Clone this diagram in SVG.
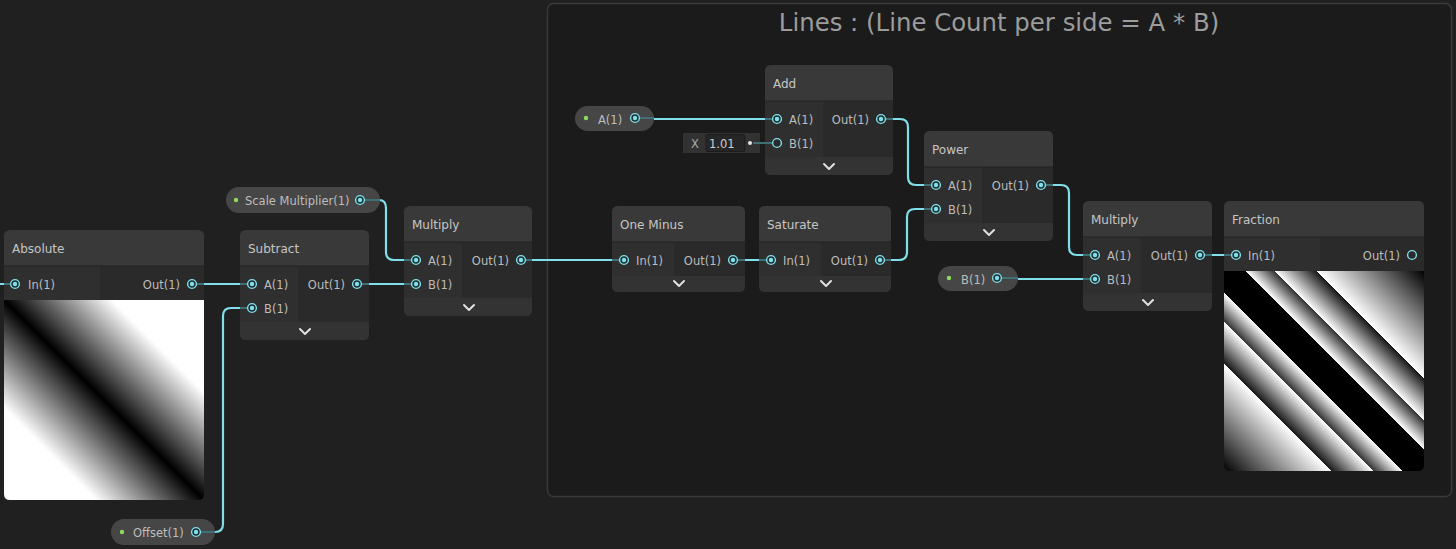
<svg xmlns="http://www.w3.org/2000/svg" xmlns:xlink="http://www.w3.org/1999/xlink" width="1456" height="549" viewBox="0 0 1456 549">
<style>
text{font-family:"DejaVu Sans","Liberation Sans",sans-serif;}
.t{font-size:12px;fill:#c6c6c6;}
.p{font-size:11.5px;fill:#bdbdbd;}
.hd{fill:#393939;}
.bd{fill:#2a2a2a;}
.ic{fill:#2f2f2f;}
.bar{fill:#333333;}
.sep{stroke:#222;stroke-width:1;}
.wire{fill:none;stroke:#80dfe9;stroke-width:2.2;stroke-linecap:round;}
.stub{fill:none;stroke:#3f7075;stroke-width:2;}
.chev{fill:none;stroke:#e0e0e0;stroke-width:2;stroke-linecap:round;stroke-linejoin:round;}
.pill{fill:#464646;}
.gdot{fill:#8fdc5a;}
</style>
<defs>
<g id="port"><circle r="4.4" fill="#1e3032" stroke="#80dfe9" stroke-width="1.4"/><circle r="2.2" fill="#80dfe9"/></g>
<g id="oport"><circle r="4.4" fill="#2a2a2a" stroke="#80dfe9" stroke-width="1.4"/></g>
<linearGradient id="gAbs" gradientUnits="userSpaceOnUse" x1="4" y1="500" x2="204" y2="300">
<stop offset="0" stop-color="#fff"/><stop offset="0.23" stop-color="#fff"/><stop offset="0.5" stop-color="#000"/><stop offset="0.77" stop-color="#fff"/><stop offset="1" stop-color="#fff"/>
</linearGradient>
<linearGradient id="gFrac" gradientUnits="userSpaceOnUse" x1="1224" y1="471" x2="1424" y2="271">
<stop offset="0" stop-color="#000"/>
<stop offset="0.2692" stop-color="#fff"/>
<stop offset="0.2692" stop-color="#181818"/>
<stop offset="0.3738" stop-color="#fff"/>
<stop offset="0.3738" stop-color="#333"/>
<stop offset="0.4463" stop-color="#fff"/>
<stop offset="0.4463" stop-color="#000"/>
<stop offset="0.5537" stop-color="#000"/>
<stop offset="0.5537" stop-color="#fff"/>
<stop offset="0.6262" stop-color="#333"/>
<stop offset="0.6262" stop-color="#fff"/>
<stop offset="0.7308" stop-color="#181818"/>
<stop offset="0.7308" stop-color="#fff"/>
<stop offset="1" stop-color="#000"/>
</linearGradient>
</defs>
<rect x="0" y="0" width="1456" height="549" fill="#202020"/>

<g id="group-lines">
<rect x="547.5" y="3.5" width="904" height="493" rx="6" fill="#1b1b1b" stroke="#3a3a3a" stroke-width="1.5"/>
<text x="999" y="31" text-anchor="middle" style="font-size:24.4px;fill:#9c9c9c">Lines : (Line Count per side = A * B)</text>
</g>

<g id="connectors">
<path class="wire" d="M0,284 H4"/>
<path class="wire" d="M204,284 H240"/>
<path class="wire" d="M369,284 H404"/>
<path class="wire" d="M379,200 Q386,200 386,208 V252 Q386,260 394,260 H404"/>
<path class="wire" d="M215,532 Q223,532 223,524 V316 Q223,308 231,308 H240"/>
<path class="wire" d="M532,260 H612"/>
<path class="wire" d="M745,260 H759"/>
<path class="wire" d="M891,260 H899 Q907,260 907,252 V217 Q907,209 915,209 H924"/>
<path class="wire" d="M654,119 H765"/>
<path class="wire" d="M893,119 H900 Q908,119 908,127 V177 Q908,185 916,185 H924"/>
<path class="wire" d="M1053,185 H1061 Q1069,185 1069,193 V247 Q1069,255 1077,255 H1083"/>
<path class="wire" d="M1018,279 H1083"/>
<path class="wire" d="M1212,255 H1224"/>
</g>

<g id="node-absolute">
<rect class="bd" x="4" y="230" width="200" height="270" rx="6"/>
<path class="hd" d="M4,266 V236 Q4,230 10,230 H198 Q204,230 204,236 V266 Z"/>
<rect class="ic" x="4" y="266" width="96" height="34"/>
<path d="M4,300 H204 V494 Q204,500 198,500 H10 Q4,500 4,494 Z" fill="url(#gAbs)"/>
<line class="sep" x1="4" y1="266" x2="204" y2="266"/>
<text class="t" x="12" y="253">Absolute</text>
<path class="stub" d="M4,284 H11"/><path class="stub" d="M196,284 H204"/>
<use xlink:href="#port" x="15" y="284"/><use xlink:href="#port" x="192" y="284"/>
<text class="p" x="28" y="289">In(1)</text>
<text class="p" x="180" y="289" text-anchor="end">Out(1)</text>
</g>

<g id="node-subtract">
<rect class="bd" x="240" y="230" width="129" height="110" rx="6"/>
<path class="hd" d="M240,266 V236 Q240,230 246,230 H363 Q369,230 369,236 V266 Z"/>
<rect class="ic" x="240" y="266" width="58" height="56"/>
<path class="bar" d="M240,322 H369 V334 Q369,340 363,340 H246 Q240,340 240,334 Z"/>
<line class="sep" x1="240" y1="266" x2="369" y2="266"/>
<text class="t" x="248" y="253">Subtract</text>
<path class="stub" d="M240,284 H248 M240,308 H248 M361,284 H369"/>
<use xlink:href="#port" x="252" y="284"/><use xlink:href="#port" x="252" y="308"/><use xlink:href="#port" x="357" y="284"/>
<text class="p" x="264" y="289">A(1)</text><text class="p" x="264" y="313">B(1)</text>
<text class="p" x="345" y="289" text-anchor="end">Out(1)</text>
<path class="chev" d="M300,329 L305,334 L310,329"/>
</g>

<g id="node-scale-multiplier">
<rect class="pill" x="226" y="187" width="154" height="26" rx="13"/>
<circle class="gdot" cx="236" cy="200" r="2.2"/>
<text class="p" x="245" y="205">Scale Multiplier(1)</text>
<path class="stub" d="M364,200 H380"/>
<use xlink:href="#port" x="360" y="200"/>
</g>

<g id="node-offset">
<rect class="pill" x="111" y="519" width="104" height="26" rx="13"/>
<circle class="gdot" cx="122" cy="532" r="2.2"/>
<text class="p" x="133" y="537">Offset(1)</text>
<path class="stub" d="M200,532 H215"/>
<use xlink:href="#port" x="196" y="532"/>
</g>

<g id="node-multiply-1">
<rect class="bd" x="404" y="206" width="128" height="110" rx="6"/>
<path class="hd" d="M404,242 V212 Q404,206 410,206 H526 Q532,206 532,212 V242 Z"/>
<rect class="ic" x="404" y="242" width="58" height="56"/>
<path class="bar" d="M404,298 H532 V310 Q532,316 526,316 H410 Q404,316 404,310 Z"/>
<line class="sep" x1="404" y1="242" x2="532" y2="242"/>
<text class="t" x="412" y="229">Multiply</text>
<path class="stub" d="M404,260 H412 M404,284 H412 M525,260 H532"/>
<use xlink:href="#port" x="416" y="260"/><use xlink:href="#port" x="416" y="284"/><use xlink:href="#port" x="521" y="260"/>
<text class="p" x="428" y="265">A(1)</text><text class="p" x="428" y="289">B(1)</text>
<text class="p" x="509" y="265" text-anchor="end">Out(1)</text>
<path class="chev" d="M464,305 L469,310 L474,305"/>
</g>

<g id="node-one-minus">
<rect class="bd" x="612" y="206" width="133" height="86" rx="6"/>
<path class="hd" d="M612,242 V212 Q612,206 618,206 H739 Q745,206 745,212 V242 Z"/>
<rect class="ic" x="612" y="242" width="62" height="34"/>
<path class="bar" d="M612,276 H745 V286 Q745,292 739,292 H618 Q612,292 612,286 Z"/>
<line class="sep" x1="612" y1="242" x2="745" y2="242"/>
<text class="t" x="620" y="229">One Minus</text>
<path class="stub" d="M612,260 H620 M737,260 H745"/>
<use xlink:href="#port" x="624" y="260"/><use xlink:href="#port" x="733" y="260"/>
<text class="p" x="636" y="265">In(1)</text>
<text class="p" x="721" y="265" text-anchor="end">Out(1)</text>
<path class="chev" d="M674,281 L679,286 L684,281"/>
</g>

<g id="node-saturate">
<rect class="bd" x="759" y="206" width="132" height="86" rx="6"/>
<path class="hd" d="M759,242 V212 Q759,206 765,206 H885 Q891,206 891,212 V242 Z"/>
<rect class="ic" x="759" y="242" width="62" height="34"/>
<path class="bar" d="M759,276 H891 V286 Q891,292 885,292 H765 Q759,292 759,286 Z"/>
<line class="sep" x1="759" y1="242" x2="891" y2="242"/>
<text class="t" x="767" y="229">Saturate</text>
<path class="stub" d="M759,260 H767 M884,260 H891"/>
<use xlink:href="#port" x="771" y="260"/><use xlink:href="#port" x="880" y="260"/>
<text class="p" x="783" y="265">In(1)</text>
<text class="p" x="868" y="265" text-anchor="end">Out(1)</text>
<path class="chev" d="M821,281 L826,286 L831,281"/>
</g>

<g id="node-a">
<rect class="pill" x="575" y="106" width="79" height="25" rx="12.5"/>
<circle class="gdot" cx="586" cy="118" r="2.2"/>
<text class="p" x="598" y="124">A(1)</text>
<path class="stub" d="M639,118 H654"/>
<use xlink:href="#port" x="635" y="118"/>
</g>

<g id="node-add">
<rect class="bd" x="765" y="65" width="128" height="110" rx="6"/>
<path class="hd" d="M765,101 V71 Q765,65 771,65 H887 Q893,65 893,71 V101 Z"/>
<rect class="ic" x="765" y="101" width="58" height="56"/>
<path class="bar" d="M765,157 H893 V169 Q893,175 887,175 H771 Q765,175 765,169 Z"/>
<line class="sep" x1="765" y1="101" x2="893" y2="101"/>
<text class="t" x="773" y="88">Add</text>
<path class="stub" d="M765,119 H773 M885,119 H893"/>
<use xlink:href="#port" x="777" y="119"/><use xlink:href="#oport" x="777" y="143"/><use xlink:href="#port" x="881" y="119"/>
<text class="p" x="789" y="124">A(1)</text><text class="p" x="789" y="148">B(1)</text>
<text class="p" x="869" y="124" text-anchor="end">Out(1)</text>
<path class="chev" d="M824,164 L829,169 L834,164"/>
</g>

<g id="field-add-b">
<rect x="683" y="133" width="77" height="20" fill="#323232"/>
<rect x="706" y="134.5" width="39" height="17" rx="2" fill="#262626" stroke="#1c1c1c"/>
<text class="p" x="695" y="148" text-anchor="middle" style="fill:#a8a8a8">X</text>
<text class="p" x="709" y="148" style="fill:#cfcfcf">1.01</text>
<circle cx="750" cy="143" r="2" fill="#dfe9ea"/>
<path d="M753,143 H772" stroke="#3f7075" stroke-width="2"/>
</g>

<g id="node-power">
<rect class="bd" x="924" y="131" width="129" height="110" rx="6"/>
<path class="hd" d="M924,167 V137 Q924,131 930,131 H1047 Q1053,131 1053,137 V167 Z"/>
<rect class="ic" x="924" y="167" width="58" height="56"/>
<path class="bar" d="M924,223 H1053 V235 Q1053,241 1047,241 H930 Q924,241 924,235 Z"/>
<line class="sep" x1="924" y1="167" x2="1053" y2="167"/>
<text class="t" x="932" y="154">Power</text>
<path class="stub" d="M924,185 H932 M924,209 H932 M1045,185 H1053"/>
<use xlink:href="#port" x="936" y="185"/><use xlink:href="#port" x="936" y="209"/><use xlink:href="#port" x="1041" y="185"/>
<text class="p" x="948" y="190">A(1)</text><text class="p" x="948" y="214">B(1)</text>
<text class="p" x="1029" y="190" text-anchor="end">Out(1)</text>
<path class="chev" d="M984,230 L989,235 L994,230"/>
</g>

<g id="node-b">
<rect class="pill" x="938" y="266" width="80" height="25" rx="12.5"/>
<circle class="gdot" cx="949" cy="278" r="2.2"/>
<text class="p" x="961" y="284">B(1)</text>
<path class="stub" d="M1001,278 H1018"/>
<use xlink:href="#port" x="997" y="278"/>
</g>

<g id="node-multiply-2">
<rect class="bd" x="1083" y="201" width="129" height="110" rx="6"/>
<path class="hd" d="M1083,237 V207 Q1083,201 1089,201 H1206 Q1212,201 1212,207 V237 Z"/>
<rect class="ic" x="1083" y="237" width="58" height="56"/>
<path class="bar" d="M1083,293 H1212 V305 Q1212,311 1206,311 H1089 Q1083,311 1083,305 Z"/>
<line class="sep" x1="1083" y1="237" x2="1212" y2="237"/>
<text class="t" x="1091" y="224">Multiply</text>
<path class="stub" d="M1083,255 H1091 M1083,279 H1091 M1204,255 H1212"/>
<use xlink:href="#port" x="1095" y="255"/><use xlink:href="#port" x="1095" y="279"/><use xlink:href="#port" x="1200" y="255"/>
<text class="p" x="1107" y="260">A(1)</text><text class="p" x="1107" y="284">B(1)</text>
<text class="p" x="1188" y="260" text-anchor="end">Out(1)</text>
<path class="chev" d="M1143,300 L1148,305 L1153,300"/>
</g>

<g id="node-fraction">
<rect class="bd" x="1224" y="201" width="200" height="270" rx="6"/>
<path class="hd" d="M1224,237 V207 Q1224,201 1230,201 H1418 Q1424,201 1424,207 V237 Z"/>
<rect class="ic" x="1224" y="237" width="96" height="34"/>
<path d="M1224,271 H1424 V465 Q1424,471 1418,471 H1230 Q1224,471 1224,465 Z" fill="url(#gFrac)"/>
<line class="sep" x1="1224" y1="237" x2="1424" y2="237"/>
<text class="t" x="1232" y="224">Fraction</text>
<path class="stub" d="M1224,255 H1232"/>
<use xlink:href="#port" x="1236" y="255"/><use xlink:href="#oport" x="1412" y="255"/>
<text class="p" x="1248" y="260">In(1)</text>
<text class="p" x="1400" y="260" text-anchor="end">Out(1)</text>
</g>
</svg>
